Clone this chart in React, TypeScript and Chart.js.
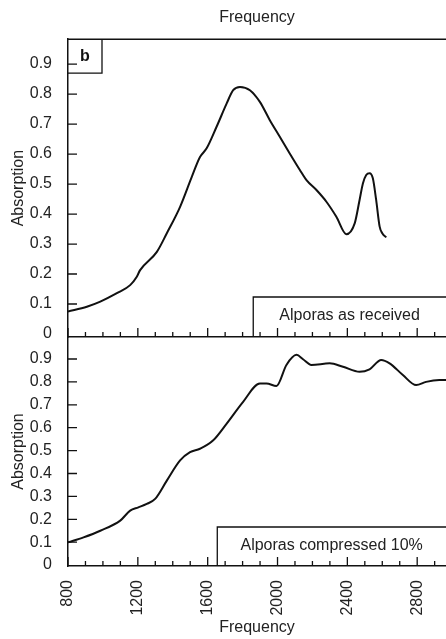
import React, { useEffect, useRef } from 'react';
import { Chart, registerables } from 'chart.js';

Chart.register(...registerables);

const FONT = '"Liberation Sans", Arial, Helvetica, sans-serif';
const TEXT = '#222';
const INK = '#111';

// ---- data ----
const xTicks = [800, 900, 1000, 1100, 1200, 1300, 1400, 1500, 1600, 1700, 1800, 1900, 2000, 2100, 2200, 2300, 2400, 2500, 2600, 2700, 2800, 2900];
const xLabelStep = 400;
const yTicks = [0, 0.1, 0.2, 0.3, 0.4, 0.5, 0.6, 0.7, 0.8, 0.9];

const receivedFreq = [800, 908, 985, 1080, 1156, 1194, 1213, 1309, 1366, 1442, 1509, 1556, 1594, 1651, 1709, 1746, 1785, 1842, 1899, 1956, 2013, 2070, 2128, 2166, 2223, 2280, 2337, 2394, 2442, 2470, 2489, 2508, 2527, 2546, 2565, 2585, 2600, 2623];
const receivedAbs = [0.075, 0.091, 0.108, 0.136, 0.163, 0.191, 0.213, 0.274, 0.336, 0.424, 0.524, 0.59, 0.619, 0.691, 0.769, 0.813, 0.824, 0.813, 0.774, 0.713, 0.658, 0.602, 0.547, 0.513, 0.48, 0.441, 0.391, 0.333, 0.369, 0.447, 0.502, 0.53, 0.536, 0.519, 0.447, 0.358, 0.336, 0.322];

const compressedFreq = [800, 889, 985, 1099, 1156, 1203, 1251, 1299, 1366, 1442, 1499, 1556, 1632, 1709, 1803, 1899, 1937, 1994, 2051, 2109, 2146, 2194, 2299, 2375, 2470, 2527, 2594, 2642, 2718, 2794, 2851, 2927, 2965];
const compressedAbs = [0.099, 0.121, 0.15, 0.194, 0.238, 0.252, 0.267, 0.289, 0.369, 0.457, 0.493, 0.508, 0.545, 0.618, 0.713, 0.793, 0.793, 0.782, 0.874, 0.918, 0.899, 0.874, 0.881, 0.866, 0.844, 0.855, 0.896, 0.881, 0.83, 0.786, 0.8, 0.808, 0.808];

const xMin = 800;
const xMax = 2965;

const decorPlugin = {
  id: 'decor',
  afterDraw(chart: any, _args: any, o: any) {
    const { ctx, chartArea: a, scales } = chart;
    const xs = scales.x;
    const ys = scales.y;
    ctx.save();
    ctx.strokeStyle = INK;
    ctx.lineWidth = 1.3;
    ctx.beginPath();
    for (const v of xTicks) {
      const px = xs.getPixelForValue(v);
      const len = v % xLabelStep === 0 ? 9 : 5;
      ctx.moveTo(px, a.bottom);
      ctx.lineTo(px, a.bottom - len);
    }
    for (const v of yTicks) {
      if (v === 0) continue;
      const py = ys.getPixelForValue(v);
      ctx.moveTo(a.left, py);
      ctx.lineTo(a.left + 9, py);
    }
    ctx.stroke();

    ctx.lineWidth = 1.5;
    if (o.topLine) {
      ctx.beginPath();
      ctx.moveTo(a.left, a.top);
      ctx.lineTo(a.right + 2, a.top);
      ctx.stroke();
    }
    if (o.tag) {
      ctx.lineWidth = 1.3;
      ctx.beginPath();
      ctx.moveTo(a.left, a.top + 34);
      ctx.lineTo(a.left + 34, a.top + 34);
      ctx.lineTo(a.left + 34, a.top);
      ctx.stroke();
      ctx.fillStyle = INK;
      ctx.font = 'bold 16px ' + FONT;
      ctx.textAlign = 'center';
      ctx.textBaseline = 'middle';
      ctx.fillText(o.tag, a.left + 17, a.top + 17);
    }
    if (o.boxText) {
      const left = xs.getPixelForValue(o.boxFrom);
      const top = a.bottom - o.boxHeight;
      ctx.lineWidth = 1.3;
      ctx.beginPath();
      ctx.moveTo(left, a.bottom);
      ctx.lineTo(left, top);
      ctx.lineTo(a.right + 2, top);
      ctx.stroke();
      ctx.fillStyle = TEXT;
      ctx.font = '16px ' + FONT;
      ctx.textAlign = 'center';
      ctx.textBaseline = 'middle';
      ctx.fillText(o.boxText, (left + a.right) / 2, top + o.boxHeight / 2 - 1);
    }
    ctx.restore();
  },
};

function makeConfig(isBottom: boolean): any {
  const freq = isBottom ? compressedFreq : receivedFreq;
  const abs = isBottom ? compressedAbs : receivedAbs;
  const font = { size: 16, family: FONT, weight: 'normal' };
  return {
    type: 'line',
    data: {
      datasets: [
        {
          data: freq.map((f, i) => ({ x: f, y: abs[i] })),
          borderColor: INK,
          borderWidth: 2,
          pointRadius: 0,
          fill: false,
          cubicInterpolationMode: 'monotone',
        },
      ],
    },
    plugins: [decorPlugin],
    options: {
      responsive: false,
      animation: false,
      events: [],
      layout: { padding: isBottom ? { top: 7, left: 0, right: 0, bottom: 0 } : { top: 0, left: 0, right: 0, bottom: 3 } },
      plugins: {
        legend: { display: false },
        tooltip: { enabled: false },
        title: {
          display: !isBottom,
          text: 'Frequency',
          fullSize: false,
          font,
          color: TEXT,
          padding: { top: 8, bottom: 12 },
        },
        decor: isBottom
          ? { topLine: false, boxText: 'Alporas compressed 10%', boxFrom: 1655, boxHeight: 39 }
          : { topLine: true, tag: 'b', boxText: 'Alporas as received', boxFrom: 1861, boxHeight: 40 },
      },
      scales: {
        x: {
          type: 'linear',
          min: xMin,
          max: xMax,
          afterBuildTicks: (s: any) => {
            s.ticks = xTicks.map((v) => ({ value: v }));
          },
          afterFit: (s: any) => {
            s.height = isBottom ? 73 : 0;
            s.paddingLeft = 0;
            s.paddingRight = 0;
          },
          grid: { display: false },
          border: { display: true, color: INK, width: 1.5 },
          ticks: {
            display: isBottom,
            autoSkip: false,
            minRotation: 90,
            maxRotation: 90,
            padding: 6,
            font,
            color: TEXT,
            callback: (v: number) => (v % xLabelStep === 0 ? String(v) : ''),
          },
          title: { display: isBottom, text: 'Frequency', font, color: TEXT, padding: { top: 0, bottom: 2 } },
        },
        y: {
          type: 'linear',
          min: isBottom ? -0.004 : -0.01,
          max: isBottom ? 0.996 : 0.983,
          afterBuildTicks: (s: any) => {
            s.ticks = yTicks.map((v) => ({ value: v }));
          },
          afterFit: (s: any) => {
            s.width = 68;
            s.paddingTop = 0;
            s.paddingBottom = 0;
          },
          grid: { display: false },
          border: { display: true, color: INK, width: 1.5 },
          ticks: {
            autoSkip: false,
            padding: 8,
            font,
            color: TEXT,
            callback: (v: number) => (v === 0 ? '0' : Number(v).toFixed(1)),
          },
          title: { display: true, text: 'Absorption', font, color: TEXT, padding: { top: 9, bottom: 0 } },
        },
      },
    },
  };
}

export default function App() {
  const topRef = useRef<HTMLCanvasElement | null>(null);
  const botRef = useRef<HTMLCanvasElement | null>(null);

  useEffect(() => {
    const c1 = new Chart(topRef.current as HTMLCanvasElement, makeConfig(false));
    const c2 = new Chart(botRef.current as HTMLCanvasElement, makeConfig(true));
    return () => {
      c1.destroy();
      c2.destroy();
    };
  }, []);

  return (
    <div style={{ position: 'absolute', left: 0, top: 0, width: 446, height: 639, background: '#fff', overflow: 'hidden' }}>
      <canvas ref={topRef} width={446} height={340} style={{ position: 'absolute', left: 0, top: 0, width: 446, height: 340 }} />
      <canvas ref={botRef} width={446} height={309} style={{ position: 'absolute', left: 0, top: 330, width: 446, height: 309 }} />
    </div>
  );
}
